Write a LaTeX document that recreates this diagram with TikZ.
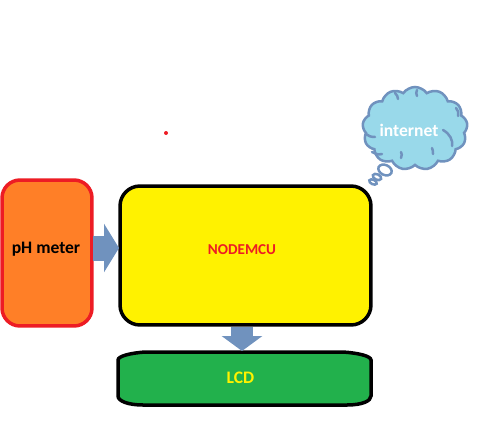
\documentclass[tikz,border=0pt]{standalone}
\usepackage{fontspec}
\setmainfont{Carlito}
\usetikzlibrary{arrows.meta,shapes.symbols,shapes.geometric}
\definecolor{meterorange}{HTML}{FF7F27}
\definecolor{meterred}{HTML}{ED1C24}
\definecolor{mcuyellow}{HTML}{FFF200}
\definecolor{lcdgreen}{HTML}{22B14C}
\definecolor{arrowblue}{HTML}{7092BE}
\definecolor{cloudblue}{HTML}{99D9EA}
\begin{document}
\begin{tikzpicture}[x=0.02cm,y=-0.02cm,
  blocktext/.style={font=\bfseries\fontsize{10}{12}\selectfont},
  bubble/.style={ellipse,draw=arrowblue,fill=white,line width=0.05cm,inner sep=0pt,rotate=-25},
  cloudline/.style={draw=arrowblue,line width=0.05cm,line cap=round},
  blockarrow/.style={arrowblue,line width=0.5cm,-{Triangle[length=0.3cm,width=0.96cm]}}]

% page
\useasboundingbox (0,0) rectangle (482,442);

% blocks
\node[draw=meterred,fill=meterorange,line width=0.07cm,rounded corners=0.36cm,
  minimum width=1.8cm,minimum height=2.92cm] (meter) at (47,253) {};
\node[draw=black,fill=mcuyellow,line width=0.07cm,rounded corners=0.4cm,
  minimum width=5.02cm,minimum height=2.78cm] (mcu) at (245.5,255.5) {};

% lcd
\draw[fill=lcdgreen,line width=0.07cm] (145,352) -- (343,352)
  .. controls (358,353) and (371,356) .. (371,360) -- (371,396)
  .. controls (371,401) and (362,405) .. (347,405) -- (143,405)
  .. controls (128,405) and (118,401) .. (118,396) -- (118,360)
  .. controls (118,356) and (131,353) .. (145,352) -- cycle;
\coordinate (lcdtop) at (242,351);
\coordinate (mcubottom) at (242,327);
\coordinate (meterout) at (93,248);
\coordinate (mcuin) at (119,248);

% arrows
\draw[blockarrow] (meterout) -- (mcuin);
\draw[blockarrow,line width=0.44cm,-{Triangle[length=0.3cm,width=0.8cm]}] (mcubottom) -- (lcdtop);

% cloud
\node[cloud,draw=arrowblue,fill=cloudblue,line width=0.05cm,cloud puffs=13,
  cloud puff arc=110,aspect=1.3,minimum width=2.1cm,minimum height=1.66cm,
  inner sep=0pt] (cloud) at (415,128.5) {};
\node[bubble,minimum width=0.28cm,minimum height=0.2cm] (bubblea) at (385,170) {};
\node[bubble,minimum width=0.18cm,minimum height=0.11cm] (bubbleb) at (377,177) {};
\node[bubble,minimum width=0.16cm,minimum height=0.09cm] (bubblec) at (373,182) {};
\draw[cloudline] (443,130) .. controls (450,134) and (453,140) .. (452,146);
\draw[cloudline] (375,137) .. controls (371,137) and (368,136) .. (366,134);
\draw[cloudline] (382,154) .. controls (378,155) and (375,154) .. (372,152);
\draw[cloudline] (401,158) .. controls (402,155) and (402,154) .. (401,152);
\draw[cloudline] (433,154) .. controls (433,152) and (433,150) .. (432,148);
\draw[cloudline] (398,99) .. controls (398,97) and (397,95) .. (395,93);
\draw[cloudline] (417,96) .. controls (416,94) and (416,92) .. (417,90);
\draw[cloudline] (458,116) .. controls (459,113) and (458,110) .. (456,108);

% lables
\node[blocktext] (metertext) at (46,249) {pH meter};
\node[blocktext,text=meterred,font=\bfseries\fontsize{8.6}{10}\selectfont] (mcutext) at (242,250) {NODEMCU};
\node[blocktext,text=mcuyellow] (lcdtext) at (240.5,378) {LCD};
\node[blocktext,text=white] (cloudtext) at (409,130) {internet};

% dot
\fill[meterred] (166,133) circle[radius=2];

\end{tikzpicture}
\end{document}
